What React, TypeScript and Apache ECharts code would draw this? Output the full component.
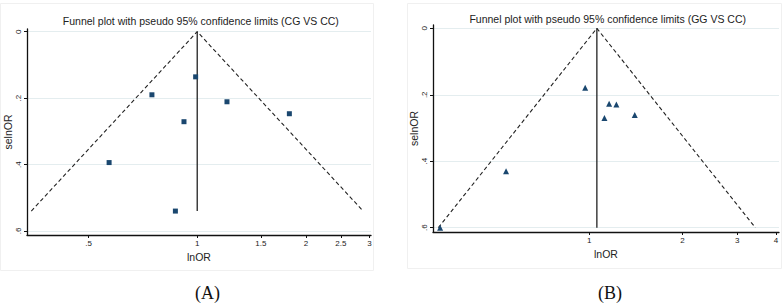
import React, { useEffect, useRef } from "react";
import * as echarts from "echarts";

// ---------- data ----------
const titleA = "Funnel plot with pseudo 95% confidence limits (CG VS CC)";
const titleB = "Funnel plot with pseudo 95% confidence limits (GG VS CC)";
const panelLabels = ["(A)", "(B)"];
const xAxisName = "lnOR";
const yAxisName = "selnOR";

// Panel A (CG vs CC): odds ratios and standard errors of lnOR
const orA = [0.99, 0.749, 1.209, 0.919, 1.8, 0.57, 0.87];
const seA = [0.136, 0.19, 0.211, 0.271, 0.247, 0.394, 0.54];
const pooledOrA = 1.0;
const maxSeA = 0.54;
const xTicksA = [0.5, 1, 1.5, 2, 2.5, 3];
const xRangeA = [0.3376, 3.03];

// Panel B (GG vs CC)
const orB = [0.971, 1.16, 1.224, 1.12, 1.403, 0.54, 0.331];
const seB = [0.179, 0.227, 0.229, 0.27, 0.261, 0.43, 0.6];
const pooledOrB = 1.059;
const maxSeB = 0.6;
const xTicksB = [1, 2, 3, 4];
const xRangeB = [0.314, 4.09];

const yTicks = [0, 0.2, 0.4, 0.6];
const yRangeA = [-0.008, 0.612];
const yRangeB = [-0.01, 0.613];

// ---------- styles ----------
const FONT = "'Liberation Sans', Arial, sans-serif";
const NAVY = "#1a476f";
const GRIDLINE = "#e4edef";

function fmtOr(v: number) {
  const n = Number(Math.exp(v).toFixed(2));
  return String(n).replace(/^0\./, ".");
}
function fmtSe(v: number) {
  const n = Number(v.toFixed(2));
  return n === 0 ? "0" : String(n).replace(/^0\./, ".");
}

function xAxisFor(gridIndex: number, ticks: number[], range: number[]) {
  const lnTicks = ticks.map((t) => Math.log(t));
  return {
    type: "value",
    gridIndex,
    min: Math.log(range[0]),
    max: Math.log(range[1]),
    name: xAxisName,
    nameLocation: "middle",
    nameGap: 14,
    nameTextStyle: { fontFamily: FONT, fontSize: 10.5, color: "#222" },
    axisLine: { onZero: false, lineStyle: { color: "#111", width: 1.3 } },
    axisTick: { show: true, length: 3, customValues: lnTicks, lineStyle: { color: "#111" } },
    axisLabel: {
      customValues: lnTicks,
      formatter: (v: number) => fmtOr(v),
      fontFamily: FONT,
      fontSize: 8,
      color: "#222",
      margin: 4,
    },
    splitLine: { show: false },
  };
}

function yAxisFor(gridIndex: number, range: number[]) {
  return {
    type: "value",
    gridIndex,
    inverse: true,
    min: range[0],
    max: range[1],
    name: yAxisName,
    nameLocation: "middle",
    nameGap: 13,
    nameTextStyle: { fontFamily: FONT, fontSize: 10.5, color: "#222" },
    axisLine: { show: true, onZero: false, lineStyle: { color: "#111", width: 1.3 } },
    axisTick: { show: true, length: 3, customValues: yTicks, lineStyle: { color: "#111" } },
    axisLabel: {
      customValues: yTicks,
      rotate: 90,
      formatter: (v: number) => fmtSe(v),
      fontFamily: FONT,
      fontSize: 8,
      color: "#222",
      margin: 5,
    },
    splitLine: { show: true, lineStyle: { color: GRIDLINE, width: 1 } },
  };
}

function seriesFor(
  idx: number,
  ors: number[],
  ses: number[],
  pooledOr: number,
  maxSe: number,
  symbol: string,
  symbolSize: number
) {
  const p = Math.log(pooledOr);
  const half = 1.96 * maxSe;
  return [
    {
      type: "line",
      xAxisIndex: idx,
      yAxisIndex: idx,
      data: [
        [p - half, maxSe],
        [p, 0],
        [p + half, maxSe],
      ],
      symbol: "none",
      lineStyle: { color: "#222", width: 1.1, type: [4, 2.7] },
      z: 2,
    },
    {
      type: "line",
      xAxisIndex: idx,
      yAxisIndex: idx,
      data: [
        [p, 0],
        [p, maxSe],
      ],
      symbol: "none",
      lineStyle: { color: "#222", width: 1.3 },
      z: 2,
    },
    {
      type: "scatter",
      xAxisIndex: idx,
      yAxisIndex: idx,
      data: ors.map((o, i) => [Math.log(o), ses[i]]),
      symbol,
      symbolSize,
      itemStyle: { color: NAVY, opacity: 1 },
      z: 3,
    },
  ];
}

export default function App() {
  const ref = useRef<HTMLDivElement>(null);
  useEffect(() => {
    if (!ref.current) return;
    const chart = echarts.init(ref.current, undefined, { renderer: "svg" });
    chart.setOption({
      animation: false,
      backgroundColor: "#ffffff",
      grid: [
        { left: 27, top: 29, width: 344, height: 206 },
        { left: 433, top: 25, width: 346, height: 207 },
      ],
      xAxis: [xAxisFor(0, xTicksA, xRangeA), xAxisFor(1, xTicksB, xRangeB)],
      yAxis: [yAxisFor(0, yRangeA), yAxisFor(1, yRangeB)],
      series: [
        ...seriesFor(0, orA, seA, pooledOrA, maxSeA, "rect", 5),
        ...seriesFor(1, orB, seB, pooledOrB, maxSeB, "triangle", 6),
      ],
      graphic: [
        {
          type: "rect",
          z: -10,
          shape: { x: 0.5, y: 3.5, width: 373, height: 267 },
          style: { fill: "none", stroke: "#f0f0f0", lineWidth: 1 },
          silent: true,
        },
        {
          type: "rect",
          z: -10,
          shape: { x: 407.5, y: 3.5, width: 374, height: 265 },
          style: { fill: "none", stroke: "#f0f0f0", lineWidth: 1 },
          silent: true,
        },
        {
          type: "text",
          x: 200.8,
          y: 20.7,
          style: {
            text: titleA,
            align: "center",
            verticalAlign: "middle",
            fontFamily: FONT,
            fontSize: 10.5,
            fill: "#222",
          },
        },
        {
          type: "text",
          x: 607.7,
          y: 19.3,
          style: {
            text: titleB,
            align: "center",
            verticalAlign: "middle",
            fontFamily: FONT,
            fontSize: 10.5,
            fill: "#222",
          },
        },
        {
          type: "text",
          x: 207.5,
          y: 293,
          style: {
            text: panelLabels[0],
            align: "center",
            verticalAlign: "middle",
            fontFamily: "'Liberation Serif', 'Times New Roman', serif",
            fontSize: 18,
            fill: "#111",
          },
        },
        {
          type: "text",
          x: 610,
          y: 293,
          style: {
            text: panelLabels[1],
            align: "center",
            verticalAlign: "middle",
            fontFamily: "'Liberation Serif', 'Times New Roman', serif",
            fontSize: 18,
            fill: "#111",
          },
        },
      ],
    });
    return () => chart.dispose();
  }, []);
  return (
    <div
      ref={ref}
      style={{ position: "absolute", left: 0, top: 0, width: 782, height: 303 }}
    />
  );
}
